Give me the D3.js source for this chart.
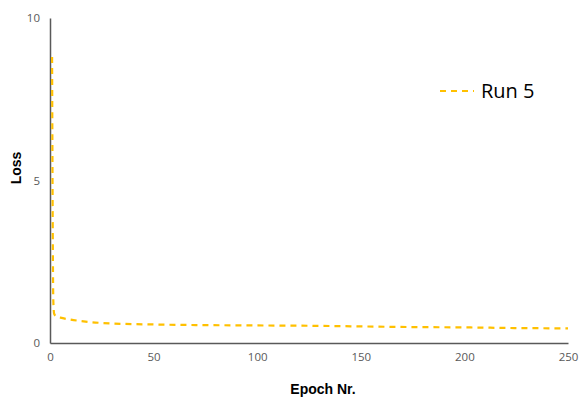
<!DOCTYPE html>
<html><head><meta charset="utf-8">
<script src="https://cdn.jsdelivr.net/npm/d3@7"></script>
<style>body{margin:0;background:#fff}svg{display:block}</style>
</head><body>
<script>
const epochs = [1, 1.6, 2, 3, 5, 10, 20, 30, 50, 75, 100, 125, 150, 175, 200, 225, 250];
const loss   = [8.8, 1.3, 0.9, 0.82, 0.78, 0.72, 0.64, 0.6, 0.57, 0.55, 0.54, 0.53, 0.51, 0.49, 0.48, 0.46, 0.45];
const xTicks = [0, 50, 100, 150, 200, 250];
const yTicks = [0, 5, 10];
const seriesName = "Run 5";

const W = 579, H = 403;
const svg = d3.select("body").append("svg").attr("width", W).attr("height", H);
const x = d3.scaleLinear().domain([0, 250]).range([50, 568]);
const y = d3.scaleLinear().domain([0, 10]).range([343, 18]);

const xAxis = svg.append("g").attr("transform", "translate(0,343)")
  .call(d3.axisBottom(x).tickValues(xTicks).tickSize(0).tickPadding(10));
const yAxis = svg.append("g").attr("transform", "translate(50,0)")
  .call(d3.axisLeft(y).tickValues(yTicks).tickSize(0).tickPadding(10));
[xAxis, yAxis].forEach(a => {
  a.select(".domain").attr("stroke", "#595959").attr("stroke-width", 1.5);
  a.selectAll("text").attr("fill", "#595959").style("font-family", "'Open Sans', sans-serif").style("font-size", "11.5px");
});

const data = epochs.map((e, i) => ({e, v: loss[i]}));
svg.append("path").datum(data)
  .attr("fill", "none").attr("stroke", "#FFC000").attr("stroke-width", 2.2)
  .attr("stroke-dasharray", "6,5")
  .attr("d", d3.line().x(d => x(d.e)).y(d => y(d.v)).curve(d3.curveMonotoneX));

svg.append("text").attr("x", 323).attr("y", 394).attr("text-anchor", "middle")
  .style("font-family", "'Liberation Sans', Arial, sans-serif").style("font-weight", "bold").style("font-size", "14px")
  .text("Epoch Nr.");
svg.append("text").attr("transform", "translate(21,168) rotate(-90)").attr("text-anchor", "middle")
  .style("font-family", "'Liberation Sans', Arial, sans-serif").style("font-weight", "bold").style("font-size", "14px")
  .text("Loss");

svg.append("line").attr("x1", 440).attr("x2", 474).attr("y1", 91).attr("y2", 91)
  .attr("stroke", "#FFC000").attr("stroke-width", 2).attr("stroke-dasharray", "6,5");
svg.append("text").attr("x", 481).attr("y", 98)
  .style("font-family", "'Open Sans', sans-serif").style("font-size", "20px").attr("fill", "#000")
  .text(seriesName);
</script>
</body></html>
